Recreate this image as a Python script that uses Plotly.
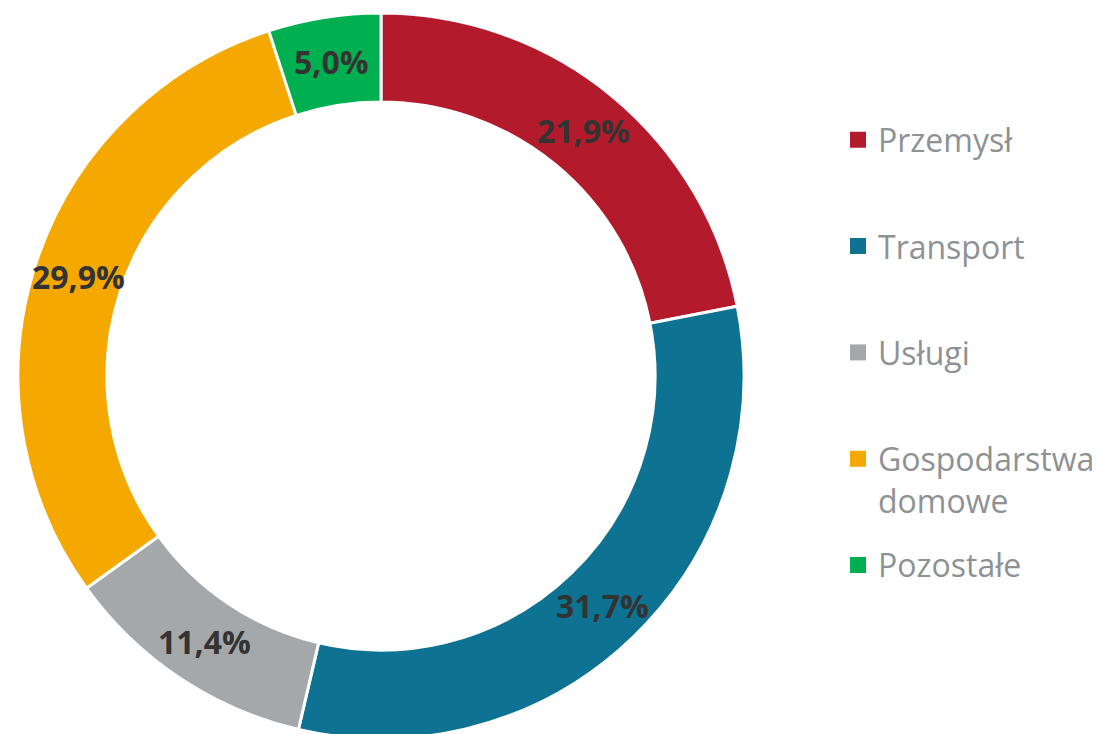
import math
import plotly.graph_objects as go

categories = ["Przemysł", "Transport", "Usługi", "Gospodarstwa domowe", "Pozostałe"]
legend_labels = ["Przemysł", "Transport", "Usługi", "Gospodarstwa<br>domowe", "Pozostałe"]
values = [21.9, 31.7, 11.4, 29.9, 5.0]
value_labels = ["21,9%", "31,7%", "11,4%", "29,9%", "5,0%"]
colors = ["#B31A2B", "#0E7392", "#A5A8AA", "#F5A800", "#00AF50"]

W, H = 1102, 734
# page body has an 8px margin; figure coordinates are shifted accordingly
cx, cy, r = 373, 368, 363
hole = 0.755

fig = go.Figure()
fig.add_trace(go.Pie(
    labels=categories,
    values=values,
    textinfo="none",
    hole=hole,
    sort=False,
    direction="clockwise",
    rotation=0,
    marker=dict(colors=colors, line=dict(color="white", width=3)),
    domain=dict(x=[(cx - r) / W, (cx + r) / W], y=[1 - (cy + r) / H, 1 - (cy - r) / H]),
    showlegend=False,
))

# value labels at the middle of each ring segment, derived from the values
total = sum(values)
r_mid = r * (1 + hole) / 2
cum = 0.0
for v, txt in zip(values, value_labels):
    ang = math.radians((cum + v / 2) / total * 360)
    cum += v
    px = cx + r_mid * math.sin(ang)
    py = cy - r_mid * math.cos(ang)
    fig.add_annotation(
        x=px / W, y=1 - py / H, xref="paper", yref="paper",
        text=txt, showarrow=False, xanchor="center", yanchor="middle",
        font=dict(family="Open Sans", size=32, color="#333333", weight="bold"),
    )

legend_top_px = 104.5
pitch = 106.3
layout_legends = {}
for i, (lab, col) in enumerate(zip(legend_labels, colors)):
    key = "legend" if i == 0 else f"legend{i + 1}"
    fig.add_trace(go.Scatter(
        x=[None], y=[None], mode="markers", name=lab,
        marker=dict(symbol="square", size=16, color=col),
        legend=key, showlegend=True, hoverinfo="skip",
    ))
    layout_legends[key] = dict(
        x=830 / W, xanchor="left",
        y=1 - (legend_top_px + i * pitch) / H, yanchor="top",
        font=dict(family="Open Sans", size=32, color="#8E9294"),
        valign="top", itemsizing="trace", bgcolor="rgba(0,0,0,0)",
    )

fig.update_layout(
    width=W, height=H,
    margin=dict(l=0, r=0, t=0, b=0),
    paper_bgcolor="white", plot_bgcolor="white",
    xaxis=dict(visible=False), yaxis=dict(visible=False),
    **layout_legends,
)

fig.write_html("out.html")
